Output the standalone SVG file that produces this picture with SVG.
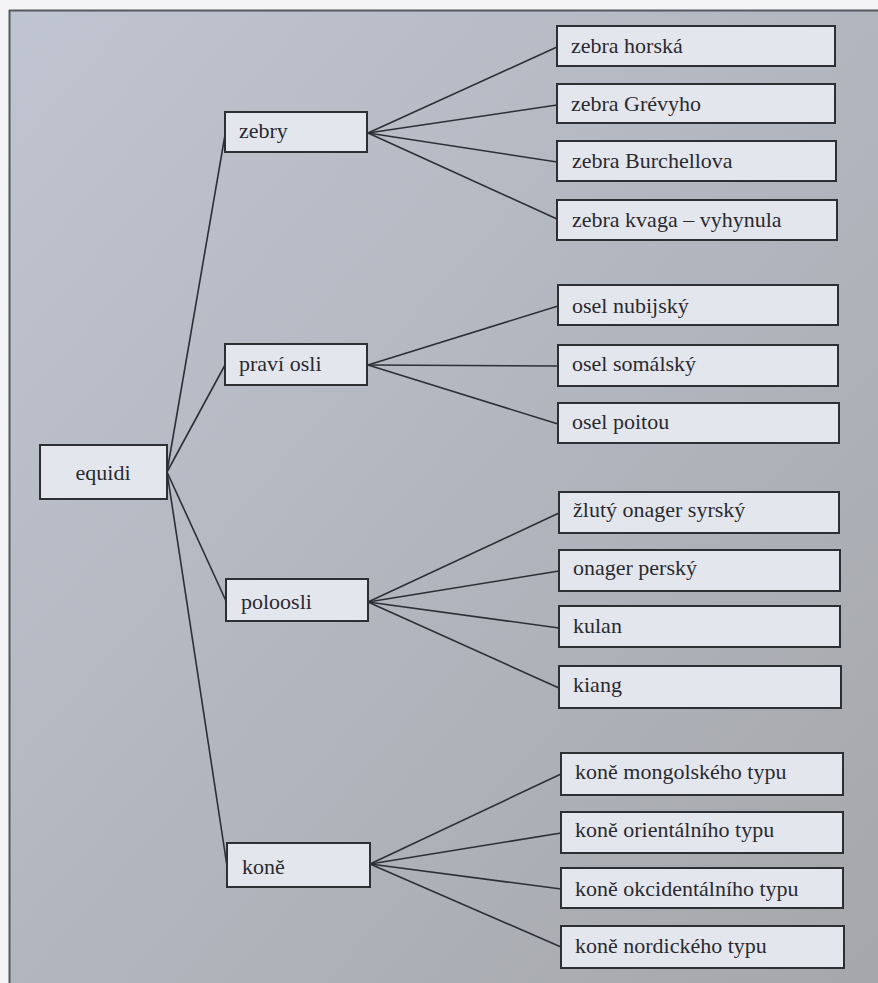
<svg xmlns="http://www.w3.org/2000/svg" width="878" height="983" viewBox="0 0 878 983">
<defs>
<linearGradient id="bg" x1="0" y1="0" x2="1" y2="1">
<stop offset="0" stop-color="#bfc5d0"/>
<stop offset="0.5" stop-color="#b2b6bf"/>
<stop offset="1" stop-color="#a6a7aa"/>
</linearGradient>
<style>
.box{fill:#e4e6ee;stroke:#2e2f33;stroke-width:2}
.t{font-family:"Liberation Serif","DejaVu Serif",serif;font-size:22px;fill:#2a2a2e}
.c line{stroke:#2e2f36;stroke-width:1.6}
</style>
</defs>
<rect x="0" y="0" width="878" height="983" fill="#f4f4f6"/>
<rect x="9" y="10" width="869" height="973" fill="url(#bg)"/>
<line x1="9.5" y1="10" x2="9.5" y2="983" stroke="#55585f" stroke-width="2"/>
<line x1="9" y1="10.5" x2="878" y2="10.5" stroke="#55585f" stroke-width="2"/>

<g id="connectors" class="c">
<line x1="167" y1="472" x2="225" y2="135"/>
<line x1="167" y1="472" x2="225" y2="365"/>
<line x1="167" y1="472" x2="226" y2="601"/>
<line x1="167" y1="472" x2="227" y2="866"/>
<line x1="368" y1="133" x2="557" y2="47"/>
<line x1="368" y1="133" x2="557" y2="105"/>
<line x1="368" y1="133" x2="557" y2="162"/>
<line x1="368" y1="133" x2="557" y2="219"/>
<line x1="368" y1="365" x2="558" y2="306"/>
<line x1="368" y1="365" x2="558" y2="366"/>
<line x1="368" y1="365" x2="558" y2="424"/>
<line x1="368" y1="602" x2="559" y2="513"/>
<line x1="368" y1="602" x2="559" y2="571"/>
<line x1="368" y1="602" x2="559" y2="628"/>
<line x1="368" y1="602" x2="559" y2="688"/>
<line x1="370" y1="864" x2="561" y2="774"/>
<line x1="370" y1="864" x2="561" y2="833"/>
<line x1="370" y1="864" x2="561" y2="889"/>
<line x1="370" y1="864" x2="561" y2="947"/>
</g>

<g id="equidi"><rect class="box" x="40" y="445" width="127" height="54"/><text class="t" x="103" y="480" text-anchor="middle">equidi</text></g>

<g id="zebry"><rect class="box" x="225" y="112" width="142" height="40"/><text class="t" x="239" y="138">zebry</text></g>
<g id="pravi-osli"><rect class="box" x="225" y="344" width="142" height="41"/><text class="t" x="239" y="371">praví osli</text></g>
<g id="poloosli"><rect class="box" x="226" y="579" width="142" height="42"/><text class="t" x="241" y="609">poloosli</text></g>
<g id="kone"><rect class="box" x="227" y="843" width="143" height="44"/><text class="t" x="242" y="874">koně</text></g>

<g id="zebra-horska"><rect class="box" x="557" y="26" width="278" height="40"/><text class="t" x="571" y="53">zebra horská</text></g>
<g id="zebra-grevyho"><rect class="box" x="557" y="84" width="278" height="39"/><text class="t" x="571" y="111">zebra Grévyho</text></g>
<g id="zebra-burchellova"><rect class="box" x="557" y="141" width="279" height="40"/><text class="t" x="572" y="168">zebra Burchellova</text></g>
<g id="zebra-kvaga"><rect class="box" x="557" y="200" width="280" height="40"/><text class="t" x="572" y="227">zebra kvaga – vyhynula</text></g>

<g id="osel-nubijsky"><rect class="box" x="558" y="285" width="280" height="40"/><text class="t" x="572" y="313">osel nubijský</text></g>
<g id="osel-somalsky"><rect class="box" x="558" y="345" width="280" height="41"/><text class="t" x="572" y="371">osel somálský</text></g>
<g id="osel-poitou"><rect class="box" x="558" y="403" width="281" height="40"/><text class="t" x="572" y="429">osel poitou</text></g>

<g id="zluty-onager"><rect class="box" x="559" y="492" width="280" height="41"/><text class="t" x="573" y="517">žlutý onager syrský</text></g>
<g id="onager-persky"><rect class="box" x="559" y="550" width="281" height="41"/><text class="t" x="573" y="575">onager perský</text></g>
<g id="kulan"><rect class="box" x="559" y="606" width="281" height="41"/><text class="t" x="573" y="633">kulan</text></g>
<g id="kiang"><rect class="box" x="559" y="666" width="282" height="42"/><text class="t" x="573" y="692">kiang</text></g>

<g id="kone-mongolskeho"><rect class="box" x="561" y="753" width="282" height="42"/><text class="t" x="575" y="779">koně mongolského typu</text></g>
<g id="kone-orientalniho"><rect class="box" x="561" y="812" width="282" height="41"/><text class="t" x="575" y="837">koně orientálního typu</text></g>
<g id="kone-okcidentalniho"><rect class="box" x="561" y="868" width="282" height="40"/><text class="t" x="575" y="896">koně okcidentálního typu</text></g>
<g id="kone-nordickeho"><rect class="box" x="561" y="926" width="283" height="42"/><text class="t" x="575" y="953">koně nordického typu</text></g>
</svg>
